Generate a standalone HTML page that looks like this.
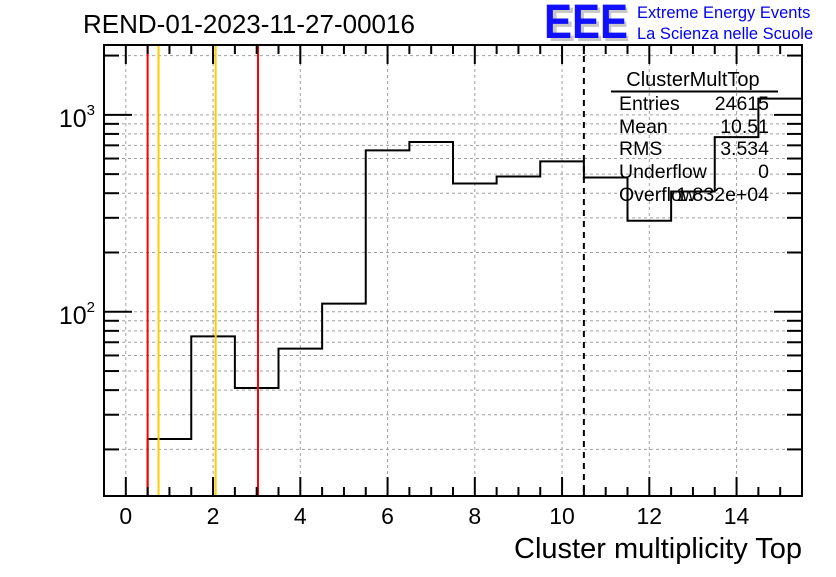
<!DOCTYPE html>
<html><head><meta charset="utf-8">
<style>
html,body{margin:0;padding:0;background:#fff;}
svg text{font-family:"Liberation Sans",Arial,sans-serif;}
</style></head>
<body>
<svg id="chart" width="836" height="572" viewBox="0 0 836 572" xmlns="http://www.w3.org/2000/svg">
<rect width="836" height="572" fill="#fff"/>
<text x="83" y="33" font-size="26">REND-01-2023-11-27-00016</text>
<g>
<text x="548" y="41" font-size="48" font-weight="bold" fill="#c8c8c8" textLength="82" lengthAdjust="spacingAndGlyphs">EEE</text>
<text x="544" y="38" font-size="48" font-weight="bold" fill="#1010ff" textLength="84" lengthAdjust="spacingAndGlyphs">EEE</text>
<text x="637" y="18" font-size="16.5" fill="#0000ee">Extreme Energy Events</text>
<text x="637" y="39" font-size="16.5" fill="#0000ee">La Scienza nelle Scuole</text>
</g>
<g id="grid"></g>
<g id="hist"></g>
<g id="lines"></g>
<g id="axes"></g>
<g font-size="19.5">
<text x="693" y="86" text-anchor="middle" font-size="20">ClusterMultTop</text>
<line x1="611" y1="91.5" x2="778" y2="91.5" stroke="#000" stroke-width="2"/>
<text x="619" y="110">Entries</text><text x="769" y="110" text-anchor="end">24615</text>
<text x="619" y="133">Mean</text><text x="769" y="133" text-anchor="end">10.51</text>
<text x="619" y="155">RMS</text><text x="769" y="155" text-anchor="end">3.534</text>
<text x="619" y="178">Underflow</text><text x="769" y="178" text-anchor="end">0</text>
<text x="619" y="201">Overflow</text><text x="769" y="201" text-anchor="end">1.832e+04</text>
</g>
<text x="802" y="558" font-size="29" text-anchor="end">Cluster multiplicity Top</text>
</svg>
<script>
const binCenters=[0,1,2,3,4,5,6,7,8,9,10,11,12,13,14,15];
const binValues=[0,22.6,75,41,65,110,660,728,448,486,580,481,290,408,771,1208];
const xTickLabels=[0,2,4,6,8,10,12,14];
const yDecades=[100,1000];
const redLines=[0.5,3.03];
const yellowLines=[0.75,2.06];
const meanLine=[10.5];

const L=104,R=802,T=45,B=496,XMIN=-0.5,XMAX=15.5,YMIN=Math.log10(11.6),YMAX=Math.log10(2263);
const sx=v=>L+(v-XMIN)/(XMAX-XMIN)*(R-L);
const sy=v=>B-(Math.log10(v)-YMIN)/(YMAX-YMIN)*(B-T);
const NS="http://www.w3.org/2000/svg";
function mk(tag,parent,attrs){const e=document.createElementNS(NS,tag);for(const k in attrs)e.setAttribute(k,attrs[k]);document.getElementById(parent).appendChild(e);return e;}
const yTicks=[];
for(let d=10;d<=1000;d*=10)for(let m=1;m<10;m++){const v=d*m;const y=sy(v);if(y>=T&&y<=B)yTicks.push(v);}
yTicks.forEach(v=>{const y=sy(v);
 const g=mk('line','grid',{x1:L,x2:R,y1:y,y2:y,stroke:'#a0a0a0','stroke-dasharray':'3,3','stroke-width':1});
 
 const major=yDecades.includes(v);const len=major?28:15;
 const t1=mk('line','axes',{x1:L,x2:L+len,y1:y,y2:y,stroke:'#000','stroke-width':2});
 
 const t2=mk('line','axes',{x1:R-len,x2:R,y1:y,y2:y,stroke:'#000','stroke-width':2});
 
});
yDecades.forEach(v=>{const y=sy(v);const e=Math.round(Math.log10(v));
 const t=mk('text','axes',{x:95,y:y+12,'font-size':25,'text-anchor':'end'});
 
 t.innerHTML='10<tspan dy="-12" font-size="15">'+e+'</tspan>';
});
for(let i=0;i<=30;i++){const v=i*0.5;const x=sx(v);if(x>R)break;const major=(i%4===0);const len=major?19:9;
 const a=mk('line','axes',{x1:x,x2:x,y1:B,y2:B-len,stroke:'#000','stroke-width':2});
 
 const b=mk('line','axes',{x1:x,x2:x,y1:T,y2:T+len,stroke:'#000','stroke-width':2});
 
}
xTickLabels.forEach(v=>{const x=sx(v);
 const g=mk('line','grid',{x1:x,x2:x,y1:T,y2:B,stroke:'#a0a0a0','stroke-dasharray':'3,3','stroke-width':1});
 
 const t=mk('text','axes',{x:x,y:524,'font-size':23,'text-anchor':'middle'});
 
 t.textContent=v;
});
let d='';
binCenters.forEach((c,i)=>{const x0=sx(c-0.5),x1=Math.min(sx(c+0.5),R);const v=binValues[i];
 const y=v>0?Math.max(T,Math.min(B,sy(v))):B;
 if(i===0)d+='M'+x0+','+y;else d+='L'+x0+','+y;d+='L'+x1+','+y;});
const h=mk('path','hist',{d:d,fill:'none',stroke:'#000','stroke-width':2});

redLines.forEach(v=>{const l=mk('line','lines',{x1:sx(v),x2:sx(v),y1:T,y2:B,stroke:'#ff0000','stroke-width':2});
 });
yellowLines.forEach(v=>{const l=mk('line','lines',{x1:sx(v),x2:sx(v),y1:T,y2:B,stroke:'#ffcc00','stroke-width':2});
 });
meanLine.forEach(v=>{const l=mk('line','lines',{x1:sx(v),x2:sx(v),y1:T,y2:B,stroke:'#000','stroke-width':2,'stroke-dasharray':'6,5'});
 });
const fr=mk('rect','axes',{x:L,y:T,width:R-L,height:B-T,fill:'none',stroke:'#000','stroke-width':2});

</script>
</body></html>
